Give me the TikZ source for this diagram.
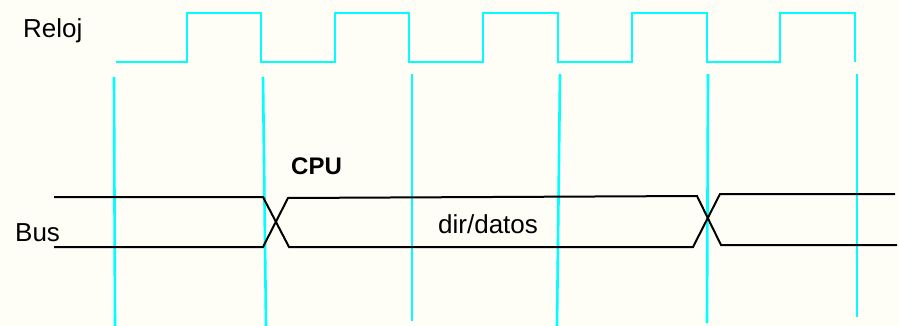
\documentclass[tikz,border=0pt]{standalone}
\usepackage{fontspec}
\setmainfont{Liberation Sans}
\definecolor{bgc}{RGB}{254,254,246}
\definecolor{clk}{RGB}{0,255,255}
\tikzset{
  clkline/.style={draw=clk, line width=2.6pt},
  busline/.style={draw=black, line width=2pt},
  lbl/.style={anchor=base west, inner sep=0pt, font=\fontsize{26}{30}\selectfont},
  lblb/.style={anchor=base west, inner sep=0pt, font=\fontsize{24}{28}\selectfont\bfseries}
}
\begin{document}
\begin{tikzpicture}[x=1pt,y=-1pt]
\fill[bgc] (0,0) rectangle (899,326);
\useasboundingbox (0,0) rectangle (899,326);
% labels
\node[lbl] (reloj) at (23,38) {Reloj};
\node[lbl] (bus) at (15,241) {Bus};
\node[lblb] (cpu) at (291,174) {CPU};
\node[lbl] (dir) at (438,233) {dir/datos};
% clock
\draw[clkline] (116,62) -- (187,62) -- (187,13) -- (261,13) -- (261,62)
  -- (335,62) -- (335,13) -- (409,13) -- (409,62)
  -- (483,62) -- (483,13) -- (558,13) -- (558,62)
  -- (632,62) -- (632,13) -- (707,13) -- (707,62)
  -- (780,62) -- (780,13) -- (855,13) -- (855,62);
% vertical markers
\draw[clkline] (114,77) -- (115,326);
\draw[clkline] (263,77) -- (266,326);
\draw[clkline] (412,74) -- (412,321);
\draw[clkline] (560,74) -- (557,326);
\draw[clkline] (708,74) -- (707,323);
\draw[clkline] (857,74) -- (857,317);
% bus
\draw[busline] (54,197) -- (263,197) -- (289,247) -- (693,247) -- (720,194) -- (895,194);
\draw[busline] (54,247) -- (263,247) -- (288,198) -- (697,196) -- (721,245) -- (897,245);
\end{tikzpicture}
\end{document}
